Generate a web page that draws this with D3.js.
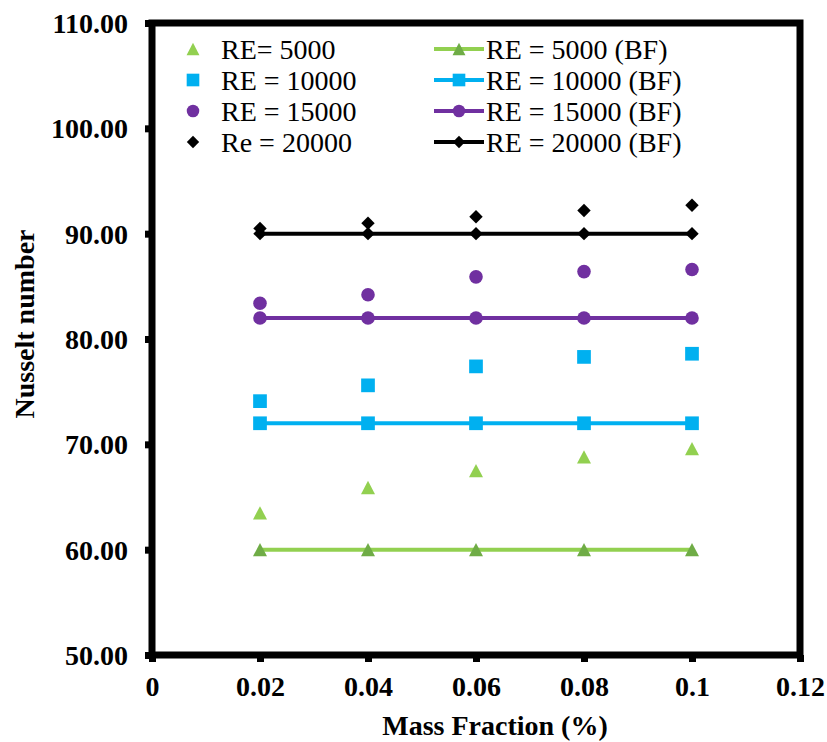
<!DOCTYPE html>
<html>
<head>
<meta charset="utf-8">
<script src="https://cdn.jsdelivr.net/npm/d3@7"></script>
<style>
  html, body { margin: 0; padding: 0; background: #fff; }
  svg { display: block; font-family: "Liberation Serif", "Times New Roman", serif; }
</style>
</head>
<body>
<svg id="chart" width="827" height="742"></svg>
<script>
// Mass fraction of nanoparticles (%)
const massFraction = [0.02, 0.04, 0.06, 0.08, 0.1];

// Nusselt number of the nanofluid at each Reynolds number
const nuRe5000  = [63.5, 65.9, 67.5, 68.8, 69.6];
const nuRe10000 = [74.1, 75.6, 77.4, 78.3, 78.6];
const nuRe15000 = [83.4, 84.2, 85.9, 86.4, 86.6];
const nuRe20000 = [90.5, 91.0, 91.6, 92.2, 92.7];

// Nusselt number of the base fluid (BF)
const bfRe5000  = [60, 60, 60, 60, 60];
const bfRe10000 = [72, 72, 72, 72, 72];
const bfRe15000 = [82, 82, 82, 82, 82];
const bfRe20000 = [90, 90, 90, 90, 90];

// Axis ticks
const xTicks = [0, 0.02, 0.04, 0.06, 0.08, 0.1, 0.12];
const xTickLabels = ["0", "0.02", "0.04", "0.06", "0.08", "0.1", "0.12"];
const yTicks = [50, 60, 70, 80, 90, 100, 110];

// Legend names
const scatterNames = ["RE= 5000", "RE = 10000", "RE = 15000", "Re = 20000"];
const lineNames = ["RE = 5000 (BF)", "RE = 10000 (BF)", "RE = 15000 (BF)", "RE = 20000 (BF)"];

// Triangle centred on its bounding box
const symTriangle = {
  draw(ctx, size) {
    const w = Math.sqrt(size);
    const h = w * 0.95;
    ctx.moveTo(0, -h / 2);
    ctx.lineTo(w / 2, h / 2);
    ctx.lineTo(-w / 2, h / 2);
    ctx.closePath();
  }
};
// Diamond as a square turned by 45 degrees
const symDiamond = {
  draw(ctx, size) {
    const r = Math.sqrt(size) / 2;
    ctx.moveTo(0, -r);
    ctx.lineTo(r, 0);
    ctx.lineTo(0, r);
    ctx.lineTo(-r, 0);
    ctx.closePath();
  }
};

const series = [
  { pts: nuRe5000,  bf: bfRe5000,  color: "#92D050", bfMarker: "#6FAC46", sym: symTriangle,     size: 196 },
  { pts: nuRe10000, bf: bfRe10000, color: "#00B0F0", bfMarker: "#00B0F0", sym: d3.symbolSquare, size: 188 },
  { pts: nuRe15000, bf: bfRe15000, color: "#7030A0", bfMarker: "#7030A0", sym: d3.symbolCircle, size: 145 },
  { pts: nuRe20000, bf: bfRe20000, color: "#000000", bfMarker: "#000000", sym: symDiamond,      size: 180 }
];

const svg = d3.select("#chart");
const plot = { left: 152, right: 800, top: 23, bottom: 655 };

const x = d3.scaleLinear().domain([0, 0.12]).range([plot.left, plot.right]);
const y = d3.scaleLinear().domain([50, 110]).range([plot.bottom, plot.top]);

// Axes with heavy outward ticks
const yAxis = svg.append("g")
  .attr("transform", `translate(${plot.left},0)`)
  .call(d3.axisLeft(y).tickValues(yTicks).tickSize(7).tickPadding(17).tickFormat(d3.format(".2f")));
const xAxis = svg.append("g")
  .attr("transform", `translate(0,${plot.bottom})`)
  .call(d3.axisBottom(x).tickValues(xTicks).tickSize(7).tickPadding(14)
    .tickFormat((d, i) => xTickLabels[i]));

[xAxis, yAxis].forEach(g => {
  g.select(".domain").remove();
  g.selectAll(".tick line").attr("stroke", "#000").attr("stroke-width", 7);
  g.selectAll(".tick text")
    .attr("fill", "#000")
    .style("font-family", "'Liberation Serif', 'Times New Roman', serif")
    .style("font-size", "28px")
    .style("font-weight", "bold");
});
yAxis.selectAll(".tick text").attr("dy", "0.34em");

// Plot frame
svg.append("rect")
  .attr("x", plot.left).attr("y", plot.top)
  .attr("width", plot.right - plot.left).attr("height", plot.bottom - plot.top)
  .attr("fill", "none").attr("stroke", "#000").attr("stroke-width", 7);

// Base-fluid lines with markers
const line = d3.line().x((d, i) => x(massFraction[i])).y(d => y(d));
series.forEach(s => {
  svg.append("path")
    .datum(s.bf)
    .attr("d", line)
    .attr("fill", "none")
    .attr("stroke", s.color)
    .attr("stroke-width", 4);
  svg.append("g").selectAll("path")
    .data(s.bf)
    .join("path")
    .attr("transform", (d, i) => `translate(${x(massFraction[i])},${y(d)})`)
    .attr("d", d3.symbol().type(s.sym).size(s.size))
    .attr("fill", s.bfMarker);
});

// Nanofluid points
series.forEach(s => {
  svg.append("g").selectAll("path")
    .data(s.pts)
    .join("path")
    .attr("transform", (d, i) => `translate(${x(massFraction[i])},${y(d)})`)
    .attr("d", d3.symbol().type(s.sym).size(s.size))
    .attr("fill", s.color);
});

// Axis titles
svg.append("text")
  .attr("x", 495).attr("y", 735)
  .attr("text-anchor", "middle")
  .style("font-size", "28px").style("font-weight", "bold")
  .text("Mass Fraction (%)");
svg.append("text")
  .attr("transform", "translate(34,324) rotate(-90)")
  .attr("text-anchor", "middle")
  .style("font-size", "28px").style("font-weight", "bold")
  .text("Nusselt number");

// Legend
const rowY = [49, 80, 111, 142];
const legend = svg.append("g");
series.forEach((s, i) => {
  const ry = rowY[i];
  legend.append("path")
    .attr("transform", `translate(193,${ry})`)
    .attr("d", d3.symbol().type(s.sym).size(s.size * 0.85))
    .attr("fill", s.color);
  legend.append("text")
    .attr("x", 221).attr("y", ry + 9.5)
    .style("font-size", "28px")
    .text(scatterNames[i]);

  legend.append("line")
    .attr("x1", 434).attr("x2", 484)
    .attr("y1", ry).attr("y2", ry)
    .attr("stroke", s.color).attr("stroke-width", 4);
  legend.append("path")
    .attr("transform", `translate(459,${ry})`)
    .attr("d", d3.symbol().type(s.sym).size(s.size * 0.85))
    .attr("fill", s.bfMarker);
  legend.append("text")
    .attr("x", 486).attr("y", ry + 9.5)
    .style("font-size", "28px")
    .text(lineNames[i]);
});
</script>
</body>
</html>
